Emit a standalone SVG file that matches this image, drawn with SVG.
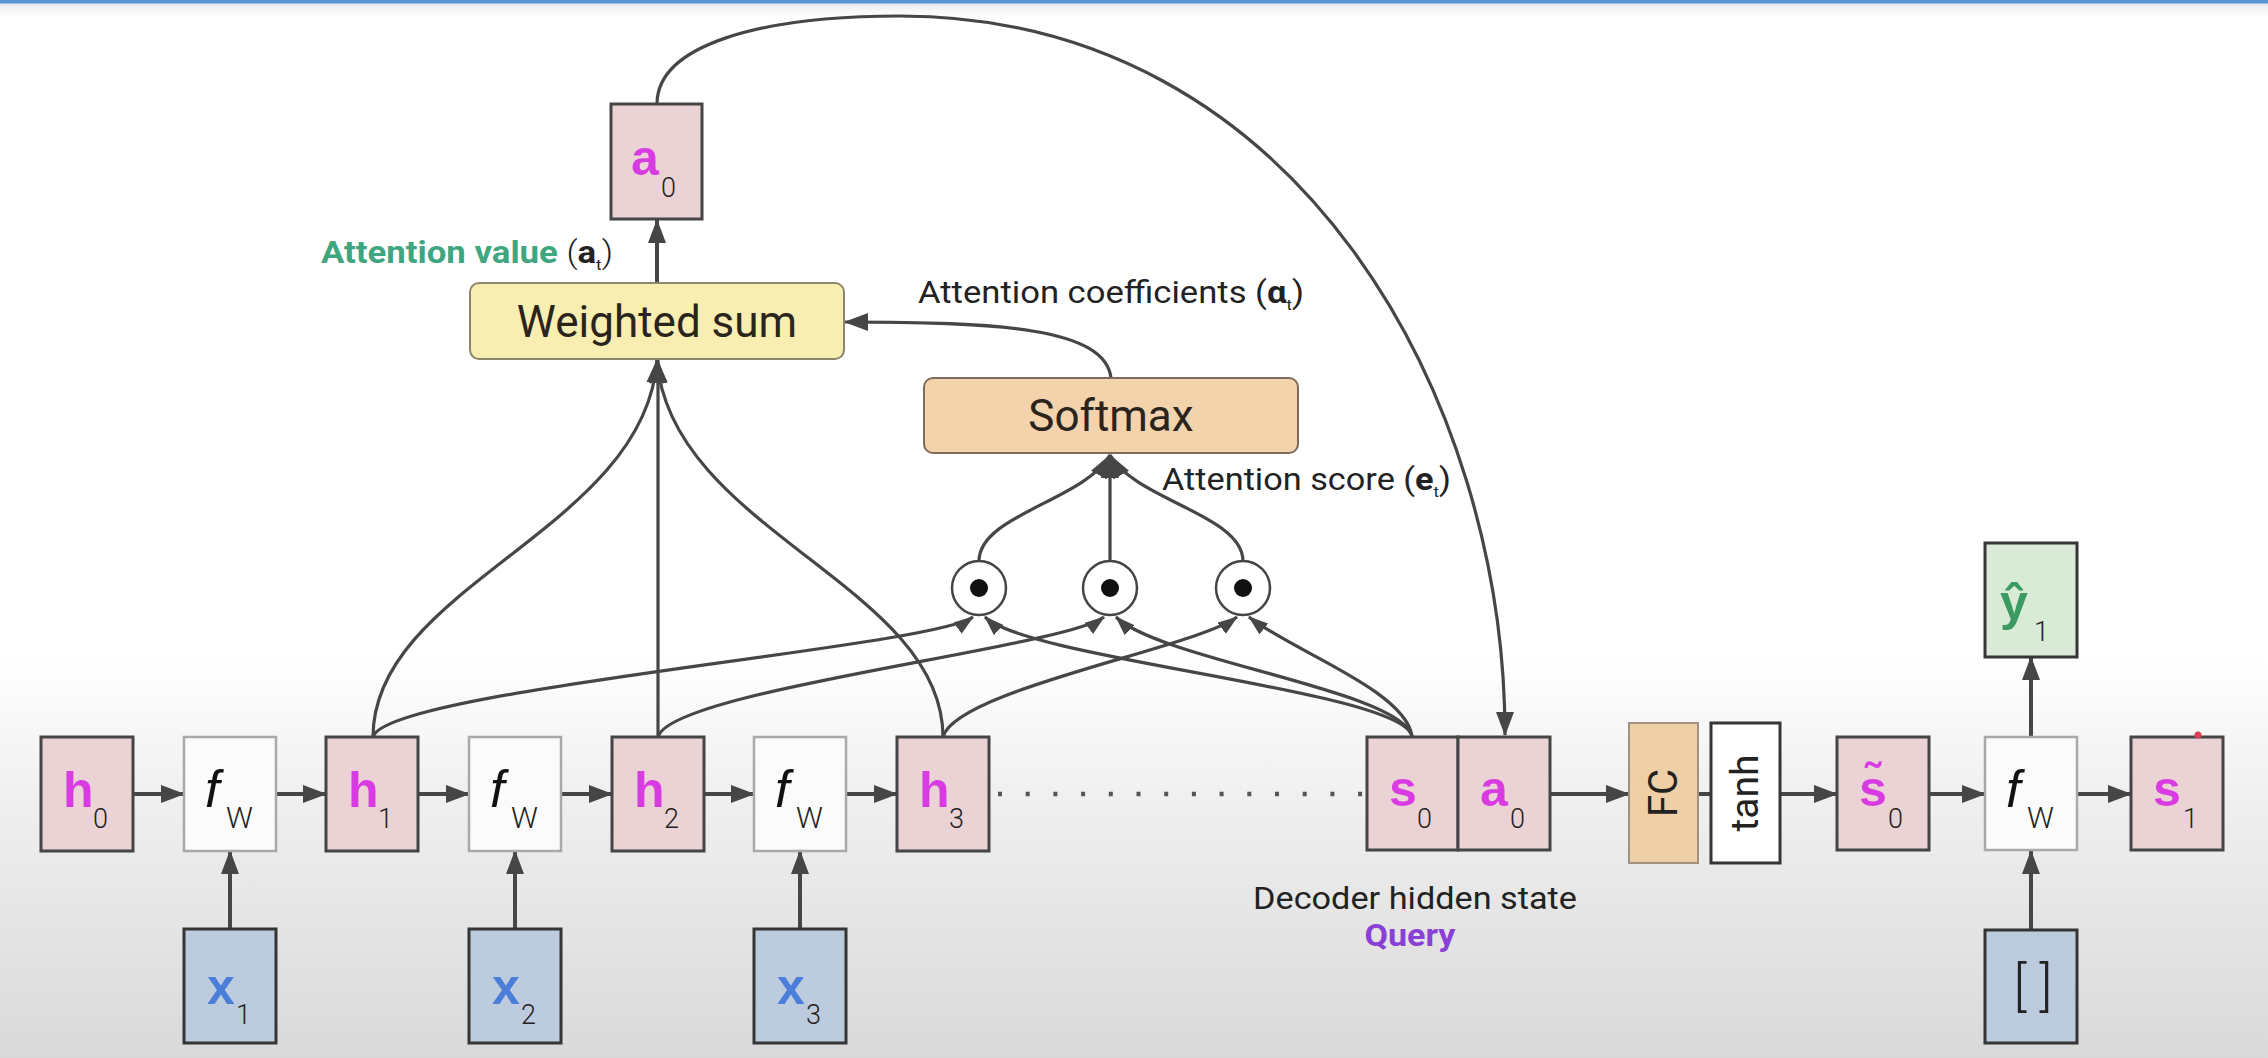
<svg xmlns="http://www.w3.org/2000/svg" width="2268" height="1058" viewBox="0 0 2268 1058">
<defs>
<linearGradient id="bg" x1="0" y1="0" x2="0" y2="1">
<stop offset="0" stop-color="#ffffff"/>
<stop offset="0.62" stop-color="#ffffff"/>
<stop offset="0.76" stop-color="#efefef"/>
<stop offset="1" stop-color="#d9d9d9"/>
</linearGradient>
<linearGradient id="topfade" x1="0" y1="0" x2="0" y2="1">
<stop offset="0" stop-color="#e4e6ea"/>
<stop offset="1" stop-color="#ffffff" stop-opacity="0"/>
</linearGradient>
<marker id="ah" viewBox="0 0 24 18" refX="23" refY="9" markerWidth="24" markerHeight="18" markerUnits="userSpaceOnUse" orient="auto">
<path d="M0,0 L24,9 L0,18 z" fill="#464646"/>
</marker>
<marker id="ahs" viewBox="0 0 20 14" refX="19" refY="7" markerWidth="20" markerHeight="14" markerUnits="userSpaceOnUse" orient="auto">
<path d="M0,0 L20,7 L0,14 z" fill="#464646"/>
</marker>
</defs>
<style>
.pink{fill:#ebd2d5;stroke:#454545;stroke-width:3}
.fw{fill:#fbfbfb;stroke:#a9a9a9;stroke-width:2.5}
.blue{fill:#bdcbde;stroke:#353535;stroke-width:3}
.green{fill:#d9ead7;stroke:#353535;stroke-width:3}
.fcb{fill:#efcfa5;stroke:#a2917e;stroke-width:2}
.wht{fill:#ffffff;stroke:#353535;stroke-width:3}
.ws{fill:#f9eeb2;stroke:#8c866a;stroke-width:2}
.sm{fill:#f3d3ac;stroke:#7e6b59;stroke-width:2}
.dot{fill:#ffffff;stroke:#454545;stroke-width:2.5}
.c{fill:none;stroke:#464646;stroke-width:4}
.cv{fill:none;stroke:#464646;stroke-width:3.2}
.L{font-family:"Liberation Sans",Arial,sans-serif;font-weight:bold;font-size:50px}
.mag{fill:#d83be2}
.blu{fill:#4a7ed8}
.grn{fill:#3a9a62}
.sub{font-family:Roboto,"Liberation Sans",sans-serif;font-weight:300;font-size:27px;fill:#222}
.f{font-family:"Liberation Sans",Arial,sans-serif;font-style:italic;font-size:52px;fill:#111}
.W{font-family:Roboto,"Liberation Sans",sans-serif;font-weight:300;font-size:30px;fill:#222}
.big{font-family:Roboto,"Liberation Sans",sans-serif;font-size:44px;fill:#2a241c;text-anchor:middle}
.lab{font-family:Roboto,"Liberation Sans",sans-serif;font-size:31px;fill:#222}
.qry{font-family:Roboto,"Liberation Sans",sans-serif;font-size:31px;font-weight:bold;fill:#8a3fd6}
</style>
<rect x="0" y="0" width="2268" height="1058" fill="url(#bg)"/>
<rect x="0" y="3" width="2268" height="18" fill="url(#topfade)"/>
<rect x="0" y="0" width="2268" height="3.5" fill="#5a92d4"/>

<g id="connectors">
<path class="c" d="M133 794 L184 794" marker-end="url(#ah)"/>
<path class="c" d="M276 794 L326 794" marker-end="url(#ah)"/>
<path class="c" d="M418 794 L469 794" marker-end="url(#ah)"/>
<path class="c" d="M561 794 L612 794" marker-end="url(#ah)"/>
<path class="c" d="M704 794 L754 794" marker-end="url(#ah)"/>
<path class="c" d="M846 794 L897 794" marker-end="url(#ah)"/>
<path d="M998 794 L1364 794" fill="none" stroke="#555" stroke-width="4.5" stroke-dasharray="4 23.7"/>
<path class="c" d="M1550 794 L1629 794" marker-end="url(#ah)"/>
<path class="c" d="M1698 794 L1711 794"/>
<path class="c" d="M1780 794 L1837 794" marker-end="url(#ah)"/>
<path class="c" d="M1929 794 L1985 794" marker-end="url(#ah)"/>
<path class="c" d="M2077 794 L2131 794" marker-end="url(#ah)"/>
<path class="c" d="M2031 737 L2031 657" marker-end="url(#ah)"/>
<path class="c" d="M2031 930 L2031 851" marker-end="url(#ah)"/>
<path class="c" d="M230 929 L230 851" marker-end="url(#ah)"/>
<path class="c" d="M515 929 L515 851" marker-end="url(#ah)"/>
<path class="c" d="M800 929 L800 851" marker-end="url(#ah)"/>
<path class="cv" d="M373 737 C373 585 645 530 657 360" marker-end="url(#ah)"/>
<path class="cv" d="M658 737 L658 360" marker-end="url(#ah)"/>
<path class="cv" d="M943 737 C943 585 670 530 657 360" marker-end="url(#ah)"/>
<path class="cv" d="M373 737 C385 690 930 648 973 617" marker-end="url(#ahs)"/>
<path class="cv" d="M658 737 C670 690 1063 648 1104 617" marker-end="url(#ahs)"/>
<path class="cv" d="M943 737 C955 690 1195 648 1237 617" marker-end="url(#ahs)"/>
<path class="cv" d="M1412 736 C1400 690 1030 660 985 617" marker-end="url(#ahs)"/>
<path class="cv" d="M1412 736 C1400 690 1160 660 1116 617" marker-end="url(#ahs)"/>
<path class="cv" d="M1412 736 C1405 690 1290 650 1249 617" marker-end="url(#ahs)"/>
<path class="cv" d="M979 561 C979 515 1085 500 1110 455" marker-end="url(#ah)"/>
<path class="cv" d="M1110 561 L1110 455" marker-end="url(#ah)"/>
<path class="cv" d="M1243 561 C1243 515 1135 500 1110 455" marker-end="url(#ah)"/>
<path class="cv" d="M1111 378 C1105 328 1000 322 845 322" marker-end="url(#ah)"/>
<path class="c" d="M657 283 L657 220" marker-end="url(#ah)"/>
<path class="cv" d="M657 104 C657 45 760 16 900 16 C1300 16 1505 400 1505 735" marker-end="url(#ah)"/>
</g>

<g id="a0_top"><rect class="pink" x="611" y="104" width="91" height="115"/><text class="L mag" x="631" y="175">a</text><text class="sub" x="661" y="197">0</text></g>

<g id="weighted_sum"><rect class="ws" x="470" y="283" width="374" height="76" rx="9"/><text class="big" x="657" y="337">Weighted sum</text></g>
<g id="softmax"><rect class="sm" x="924" y="378" width="374" height="75" rx="9"/><text class="big" x="1111" y="431">Softmax</text></g>

<g id="dot1"><circle class="dot" cx="979" cy="588" r="27"/><circle cx="979" cy="588" r="9" fill="#111"/></g>
<g id="dot2"><circle class="dot" cx="1110" cy="588" r="27"/><circle cx="1110" cy="588" r="9" fill="#111"/></g>
<g id="dot3"><circle class="dot" cx="1243" cy="588" r="27"/><circle cx="1243" cy="588" r="9" fill="#111"/></g>

<g id="h0"><rect class="pink" x="41" y="737" width="92" height="114"/><text class="L mag" x="63" y="807">h</text><text class="sub" x="93" y="828">0</text></g>
<g id="fw1"><rect class="fw" x="184" y="737" width="92" height="114"/><text class="f" x="205" y="807">f</text><text class="W" x="226" y="828">W</text></g>
<g id="h1"><rect class="pink" x="326" y="737" width="92" height="114"/><text class="L mag" x="348" y="807">h</text><text class="sub" x="378" y="828">1</text></g>
<g id="fw2"><rect class="fw" x="469" y="737" width="92" height="114"/><text class="f" x="490" y="807">f</text><text class="W" x="511" y="828">W</text></g>
<g id="h2"><rect class="pink" x="612" y="737" width="92" height="114"/><text class="L mag" x="634" y="807">h</text><text class="sub" x="664" y="828">2</text></g>
<g id="fw3"><rect class="fw" x="754" y="737" width="92" height="114"/><text class="f" x="775" y="807">f</text><text class="W" x="796" y="828">W</text></g>
<g id="h3"><rect class="pink" x="897" y="737" width="92" height="114"/><text class="L mag" x="919" y="807">h</text><text class="sub" x="949" y="828">3</text></g>

<g id="x1"><rect class="blue" x="184" y="929" width="92" height="114"/><text class="L blu" x="207" y="1004">x</text><text class="sub" x="236" y="1024">1</text></g>
<g id="x2"><rect class="blue" x="469" y="929" width="92" height="114"/><text class="L blu" x="492" y="1004">x</text><text class="sub" x="521" y="1024">2</text></g>
<g id="x3"><rect class="blue" x="754" y="929" width="92" height="114"/><text class="L blu" x="777" y="1004">x</text><text class="sub" x="806" y="1024">3</text></g>

<g id="s0"><rect class="pink" x="1367" y="737" width="91" height="113"/><text class="L mag" x="1389" y="806">s</text><text class="sub" x="1417" y="828">0</text></g>
<g id="a0"><rect class="pink" x="1458" y="737" width="92" height="113"/><text class="L mag" x="1480" y="806">a</text><text class="sub" x="1510" y="828">0</text></g>
<g id="fc"><rect class="fcb" x="1629" y="723" width="69" height="140"/><text font-family="Roboto,'Liberation Sans',sans-serif" font-size="40" fill="#222" text-anchor="middle" transform="translate(1677 793) rotate(-90)">FC</text></g>
<g id="tanh"><rect class="wht" x="1711" y="723" width="69" height="140"/><text font-family="Roboto,'Liberation Sans',sans-serif" font-size="39" fill="#222" text-anchor="middle" transform="translate(1758 793) rotate(-90)">tanh</text></g>
<g id="s_tilde0"><rect class="pink" x="1837" y="737" width="92" height="113"/><text class="L mag" x="1859" y="806">s̃</text><text class="sub" x="1888" y="828">0</text></g>
<g id="fw4"><rect class="fw" x="1985" y="737" width="92" height="113"/><text class="f" x="2006" y="807">f</text><text class="W" x="2027" y="828">W</text></g>
<g id="s1"><rect class="pink" x="2131" y="737" width="92" height="113"/><text class="L mag" x="2153" y="806">s</text><text class="sub" x="2183" y="828">1</text></g>
<g id="y1"><rect class="green" x="1985" y="543" width="92" height="114"/><text class="L grn" x="2000" y="620">ŷ</text><text class="sub" x="2034" y="641">1</text></g>
<g id="empty_input"><rect class="blue" x="1985" y="930" width="92" height="113"/><text font-family="Roboto,'Liberation Sans',sans-serif" font-weight="300" font-size="54" fill="#222" text-anchor="middle" x="2033" y="1005">[ ]</text></g>
<circle cx="2198" cy="735" r="3.5" fill="#e23a55"/>

<g id="labels">
<text class="lab" x="321" y="263" textLength="292" lengthAdjust="spacingAndGlyphs"><tspan fill="#3fa67f" font-weight="bold">Attention value </tspan><tspan font-weight="300">(</tspan><tspan font-weight="bold">a</tspan><tspan font-size="15" dy="7">t</tspan><tspan dy="-7" font-weight="300">)</tspan></text>
<text class="lab" x="918" y="303" textLength="386" lengthAdjust="spacingAndGlyphs">Attention coefficients (<tspan font-weight="bold">α</tspan><tspan font-size="15" dy="7">t</tspan><tspan dy="-7">)</tspan></text>
<text class="lab" x="1162" y="490" textLength="289" lengthAdjust="spacingAndGlyphs">Attention score (<tspan font-weight="bold">e</tspan><tspan font-size="15" dy="7">t</tspan><tspan dy="-7">)</tspan></text>
<text class="lab" x="1415" y="909" text-anchor="middle" textLength="324" lengthAdjust="spacingAndGlyphs">Decoder hidden state</text>
<text class="qry" x="1410" y="946" text-anchor="middle" textLength="91" lengthAdjust="spacingAndGlyphs">Query</text>
</g>
</svg>
